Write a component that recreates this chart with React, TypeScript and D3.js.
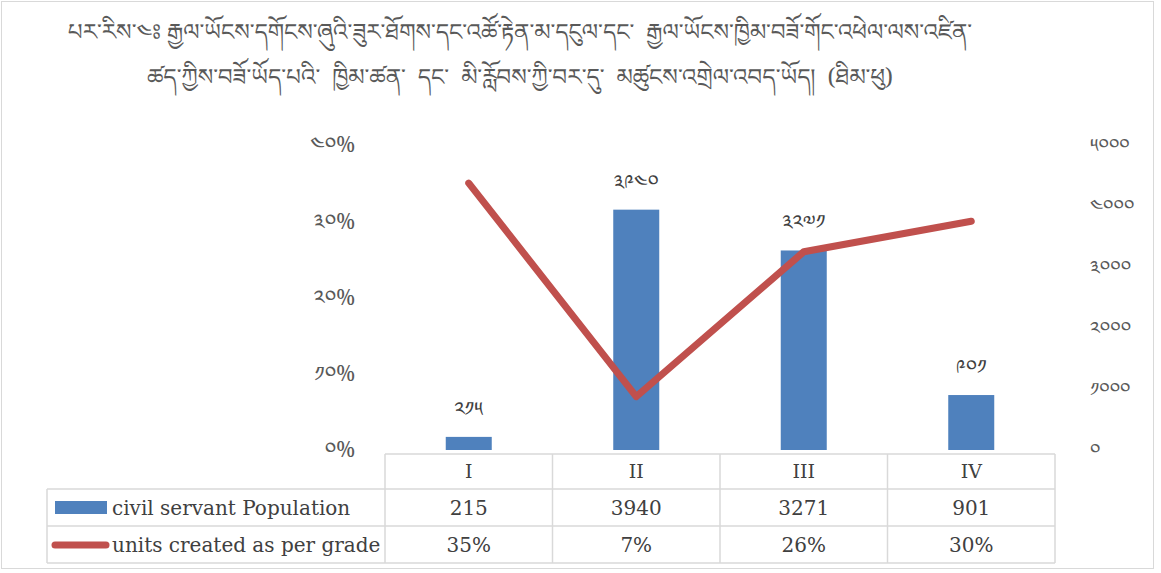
import React from "react";
import * as d3 from "d3";

const categories = ["I", "II", "III", "IV"];
const population = [215, 3940, 3271, 901];
const unitsPct = [35, 7, 26, 30];
const leftTicks = [0, 10, 20, 30, 40];
const rightTicks = [0, 1000, 2000, 3000, 4000, 5000];
const seriesNames = ["civil servant Population", "units created as per grade"];
const titleLines = [
  "པར་རིས་༤ཿ རྒྱལ་ཡོངས་དགོངས་ཞུའི་ཟུར་ཐོགས་དང་འཚོ་རྟེན་མ་དངུལ་དང་  རྒྱལ་ཡོངས་ཁྱིམ་བཟོ་གོང་འཕེལ་ལས་འཛིན་",
  "ཚད་ཀྱིས་བཟོ་ཡོད་པའི་  ཁྱིམ་ཚན་  དང་  མི་རློབས་ཀྱི་བར་དུ་  མཚུངས་འགྲེལ་འབད་ཡོད།  (ཐིམ་ཕུ)",
];

const tib = (s: string) =>
  s.replace(/[0-9]/g, (d) => String.fromCharCode(0x0f20 + Number(d)));

const W = 1161;
const H = 573;
const plotL = 385;
const plotR = 1055;
const plotT = 145;
const plotB = 450;
const tableLeft = 47;
const rowTops = [454, 489, 526, 563];

const TIB_FONT =
  "'Noto Serif Tibetan','Noto Sans Tibetan','Jomolhari','Microsoft Himalaya','DejaVu Sans',sans-serif";
const TXT_FONT = "'DejaVu Serif','Liberation Serif',serif";

export default function App() {
  const x = d3.scaleBand<string>().domain(categories).range([plotL, plotR]).padding(0);
  const yL = d3.scaleLinear().domain([0, 40]).range([plotB, plotT]);
  const yR = d3.scaleLinear().domain([0, 5000]).range([plotB, plotT]);
  const barW = 46;
  const cx = (c: string) => (x(c) as number) + x.bandwidth() / 2;

  const line = d3
    .line<number>()
    .x((_, i) => cx(categories[i]))
    .y((d) => yL(d));

  const grid = "#d9d9d9";
  const txt = "#404040";

  return (
    <svg width={W} height={H} style={{ position: "absolute", left: 0, top: 0 }}>
      <rect x={0} y={0} width={W} height={H} fill="#fff" />
      <rect x={1.5} y={1.5} width={1152} height={567} fill="none" stroke={grid} />
      {titleLines.map((t, i) => (
        <text
          key={i}
          x={520}
          y={40 + i * 45}
          textAnchor="middle"
          fontFamily={TIB_FONT}
          fontSize={23}
          fill="#595959"
          xmlSpace="preserve"
          style={{ whiteSpace: "pre" }}
        >
          {t}
        </text>
      ))}
      {leftTicks.map((t) => (
        <text
          key={"l" + t}
          x={355}
          y={yL(t)}
          dy="0.35em"
          textAnchor="end"
          fontFamily={TIB_FONT}
          fontSize={21}
          fill="#595959"
        >
          {tib(String(t)) + "%"}
        </text>
      ))}
      {rightTicks.map((t) => (
        <text
          key={"r" + t}
          x={1090}
          y={yR(t)}
          dy="0.35em"
          textAnchor="start"
          fontFamily={TIB_FONT}
          fontSize={19}
          fill="#595959"
        >
          {tib(String(t))}
        </text>
      ))}
      {population.map((v, i) => (
        <g key={"b" + i}>
          <rect
            x={cx(categories[i]) - barW / 2}
            y={yR(v)}
            width={barW}
            height={plotB - yR(v)}
            fill="#4f81bd"
          />
          <text
            x={cx(categories[i])}
            y={yR(v) - 28}
            dy="0.35em"
            textAnchor="middle"
            fontFamily={TIB_FONT}
            fontSize={20}
            fill={txt}
          >
            {tib(String(v))}
          </text>
        </g>
      ))}
      <path
        d={line(unitsPct) || ""}
        fill="none"
        stroke="#c0504d"
        strokeWidth={7}
        strokeLinejoin="round"
        strokeLinecap="round"
      />
      {/* data table */}
      <g stroke={grid} strokeWidth={1.5} fill="none">
        <line x1={plotL} x2={plotR} y1={rowTops[0]} y2={rowTops[0]} />
        {rowTops.slice(1).map((y) => (
          <line key={y} x1={tableLeft} x2={plotR} y1={y} y2={y} />
        ))}
        <line x1={tableLeft} x2={tableLeft} y1={rowTops[1]} y2={rowTops[3]} />
        {categories.map((c) => (
          <line key={c} x1={x(c) as number} x2={x(c) as number} y1={rowTops[0]} y2={rowTops[3]} />
        ))}
        <line x1={plotR} x2={plotR} y1={rowTops[0]} y2={rowTops[3]} />
      </g>
      {categories.map((c) => (
        <text
          key={"c" + c}
          x={cx(c)}
          y={(rowTops[0] + rowTops[1]) / 2}
          dy="0.35em"
          textAnchor="middle"
          fontFamily={TXT_FONT}
          fontSize={19}
          fill={txt}
        >
          {c}
        </text>
      ))}
      {population.map((v, i) => (
        <text
          key={"p" + i}
          x={cx(categories[i])}
          y={(rowTops[1] + rowTops[2]) / 2}
          dy="0.35em"
          textAnchor="middle"
          fontFamily={TXT_FONT}
          fontSize={20}
          fill={txt}
        >
          {v}
        </text>
      ))}
      {unitsPct.map((v, i) => (
        <text
          key={"u" + i}
          x={cx(categories[i])}
          y={(rowTops[2] + rowTops[3]) / 2}
          dy="0.35em"
          textAnchor="middle"
          fontFamily={TXT_FONT}
          fontSize={20}
          fill={txt}
        >
          {v + "%"}
        </text>
      ))}
      <rect x={55} y={501} width={52} height={13} fill="#4f81bd" />
      <line x1={55} x2={106} y1={545} y2={545} stroke="#c0504d" strokeWidth={7} strokeLinecap="round" />
      <text
        x={112}
        y={(rowTops[1] + rowTops[2]) / 2}
        dy="0.35em"
        fontFamily={TXT_FONT}
        fontSize={20}
        fill={txt}
      >
        {seriesNames[0]}
      </text>
      <text
        x={112}
        y={(rowTops[2] + rowTops[3]) / 2}
        dy="0.35em"
        fontFamily={TXT_FONT}
        fontSize={20}
        fill={txt}
      >
        {seriesNames[1]}
      </text>
    </svg>
  );
}
